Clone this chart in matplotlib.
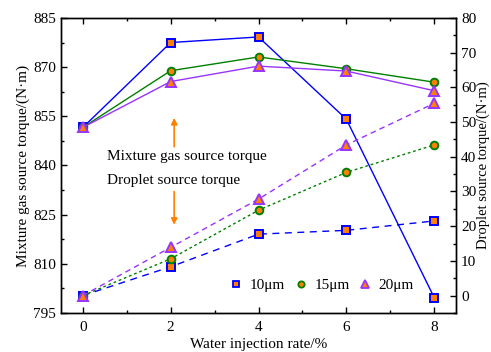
import numpy as np
import matplotlib.pyplot as plt
from matplotlib.lines import Line2D
from matplotlib.ticker import MultipleLocator

plt.rcParams['font.family'] = 'Liberation Serif'
plt.rcParams['font.size'] = 10

rate = [0, 2, 4, 6, 8]
sizes = ['10μm', '15μm', '20μm']

# mixture gas source torque, N·m (left axis)
gas_10 = [851.6, 877.5, 879.2, 854.1, 799.7]
gas_15 = [851.6, 868.9, 873.1, 869.5, 865.4]
gas_20 = [851.6, 865.6, 870.3, 868.8, 862.8]

# droplet source torque, N·m (right axis)
drop_10 = [0.0, 8.3, 17.7, 18.8, 21.5]
drop_15 = [0.0, 10.6, 24.6, 35.5, 43.4]
drop_20 = [0.0, 13.9, 27.8, 43.4, 55.4]

colors = ['#0000ff', '#008000', '#9933ff']
markers = ['s', 'o', '^']
dashes = [(5, 4), (2, 2), (4, 3)]
face = '#ff8000'

fig = plt.figure(figsize=(4.91, 3.52), dpi=100)
ax = fig.add_axes([0.124, 0.111, 0.805, 0.838])
ax2 = ax.twinx()

for g, c, mk in zip([gas_10, gas_15, gas_20], colors, markers):
    ax.plot(rate, g, color=c, lw=1.0, marker=mk, ms=5.5 if mk != '^' else 6.5,
            mfc=face, mec=c, mew=1.4, zorder=3)

for d, c, mk, ds in zip([drop_10, drop_15, drop_20], colors, markers, dashes):
    ax2.plot(rate, d, color=c, lw=1.0, ls=(0, ds), marker=mk,
             ms=5.5 if mk != '^' else 6.5, mfc=face, mec=c, mew=1.4, zorder=3)

ax.set_xlim(-0.5, 8.5)
ax.set_ylim(795, 885)
ax2.set_ylim(-5, 80)
ax.xaxis.set_major_locator(MultipleLocator(2))
ax.xaxis.set_minor_locator(MultipleLocator(1))
ax.yaxis.set_major_locator(MultipleLocator(15))
ax.yaxis.set_minor_locator(MultipleLocator(7.5))
ax2.yaxis.set_minor_locator(MultipleLocator(5))
ax2.set_yticks([0, 10, 20, 30, 40, 50, 60, 70, 80])

ax.tick_params(which='both', direction='in', top=True, labelsize=11)
ax.tick_params(axis='x', which='major', pad=6)
ax.tick_params(which='major', length=4, width=1)
ax.tick_params(which='minor', length=2.5, width=1)
ax2.tick_params(which='both', direction='in', labelsize=11)
ax2.tick_params(which='major', length=4, width=1)
ax2.tick_params(which='minor', length=2.5, width=1)
for a in (ax, ax2):
    for s in a.spines.values():
        s.set_linewidth(1.0)

ax.set_xlabel('Water injection rate/%', fontsize=11, labelpad=2.5)
ax.set_ylabel('Mixture gas source torque/(N·m)', fontsize=11, labelpad=2)
ax2.set_ylabel('Droplet source torque/(N·m)', fontsize=10.5, labelpad=0.5)

# arrows pointing to the two groups of curves
ax.annotate('', xy=(2.08, 854.5), xytext=(2.08, 845.7),
            arrowprops=dict(arrowstyle='-|>', color='#ff8000', lw=1.2,
                            mutation_scale=9, shrinkA=0, shrinkB=0))
ax.annotate('', xy=(2.08, 821.9), xytext=(2.08, 832.0),
            arrowprops=dict(arrowstyle='-|>', color='#ff8000', lw=1.2,
                            mutation_scale=9, shrinkA=0, shrinkB=0))
ax.text(0.55, 842.6, 'Mixture gas source torque', fontsize=11, va='center')
ax.text(0.55, 835.3, 'Droplet source torque', fontsize=11, va='center')

handles = [Line2D([], [], ls='none', marker=mk, ms=4.5 if mk != '^' else 5.5,
                  mfc=face, mec=c, mew=1.3) for c, mk in zip(colors, markers)]
ax2.legend(handles, sizes, loc='center left', bbox_to_anchor=(0.405, 0.0925),
           ncol=3, frameon=False, fontsize=11, handletextpad=0.3,
           columnspacing=0.4, handlelength=1.2, borderaxespad=0)

fig.savefig('out.png', dpi=100)
